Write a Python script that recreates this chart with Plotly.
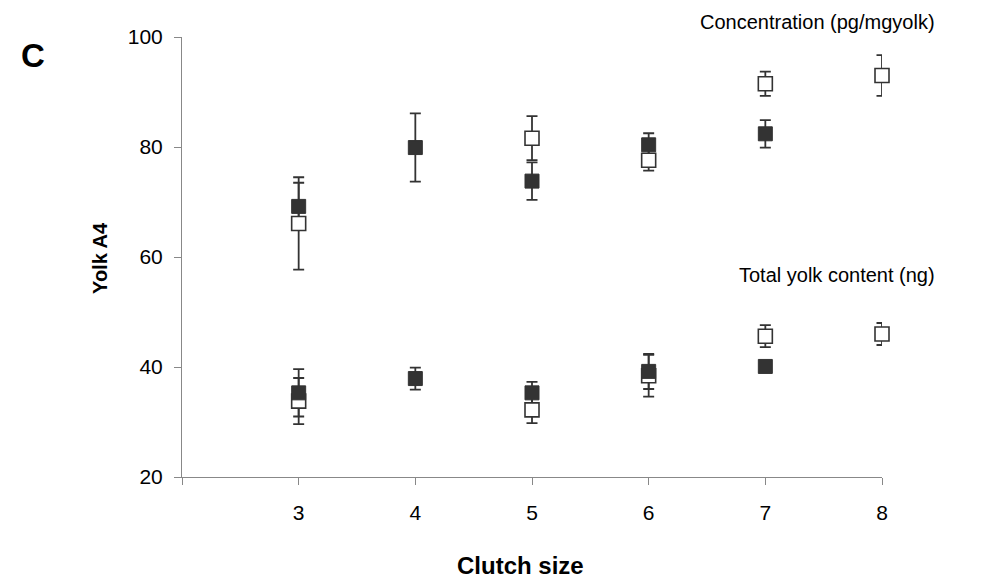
import plotly.graph_objects as go

# ---- data ----
clutch_filled = [3, 4, 5, 6, 7]
conc_filled = [69.2, 79.9, 73.8, 80.4, 82.4]
conc_filled_err = [4.3, 6.2, 3.4, 2.1, 2.5]
total_filled = [35.3, 37.9, 35.3, 39.2, 40.1]
total_filled_err = [4.3, 2.0, 2.0, 3.2, 1.0]

clutch_open = [3, 5, 6, 7, 8]
conc_open = [66.1, 81.6, 77.6, 91.5, 93.0]
conc_open_err = [8.4, 4.0, 1.9, 2.2, 3.7]
total_open = [33.8, 32.2, 38.4, 45.6, 46.0]
total_open_err = [4.2, 2.4, 3.8, 2.0, 2.0]

x_ticks = [2, 3, 4, 5, 6, 7, 8]
x_ticktext = ["", "3", "4", "5", "6", "7", "8"]
y_ticks = [20, 40, 60, 80, 100]

DARK = "#333333"
FONT = "Liberation Sans, Arial, sans-serif"

fig = go.Figure()

def err_trace(x, y, e):
    return go.Scatter(
        x=x, y=y, mode="markers",
        marker=dict(size=14, opacity=0),
        error_y=dict(type="data", array=e, visible=True, color=DARK,
                     thickness=1.8, width=5.5),
        cliponaxis=False, showlegend=False, hoverinfo="skip",
    )

def mk_trace(x, y, filled):
    return go.Scatter(
        x=x, y=y, mode="markers",
        marker=dict(symbol="square", size=14,
                    color=DARK if filled else "white",
                    line=dict(color=DARK, width=1 if filled else 1.6)),
        cliponaxis=False, showlegend=False,
    )

# error bars first (below all markers)
fig.add_trace(err_trace(clutch_open, conc_open, conc_open_err))
fig.add_trace(err_trace(clutch_filled, conc_filled, conc_filled_err))
fig.add_trace(err_trace(clutch_open, total_open, total_open_err))
fig.add_trace(err_trace(clutch_filled, total_filled, total_filled_err))
# markers: open below filled
fig.add_trace(mk_trace(clutch_open, conc_open, False))
fig.add_trace(mk_trace(clutch_open, total_open, False))
fig.add_trace(mk_trace(clutch_filled, conc_filled, True))
fig.add_trace(mk_trace(clutch_filled, total_filled, True))

axis_common = dict(
    showline=True, linecolor="#888888", linewidth=1,
    ticks="outside", ticklen=7, tickcolor="#888888", tickwidth=1,
    showgrid=False, zeroline=False,
    tickfont=dict(family=FONT, size=21, color="black"),
)

fig.update_layout(
    width=1003, height=585,
    margin=dict(l=182, r=121, t=37, b=108),
    paper_bgcolor="white", plot_bgcolor="white",
    xaxis=dict(range=[2, 8], tickvals=x_ticks, ticktext=x_ticktext,
               ticklabelstandoff=10, **axis_common),
    yaxis=dict(range=[20, 100], tickvals=y_ticks,
               ticklabelstandoff=7, **axis_common),
    annotations=[
        dict(text="<b>C</b>", x=-0.213, y=0.959, xref="paper", yref="paper",
             showarrow=False, xanchor="center", yanchor="middle",
             font=dict(family=FONT, size=33, color="black")),
        dict(text="<b>Yolk A4</b>", x=-0.117, y=0.498, xref="paper", yref="paper",
             showarrow=False, xanchor="center", yanchor="middle", textangle=-90,
             font=dict(family=FONT, size=20, color="black")),
        dict(text="<b>Clutch size</b>", x=0.483, y=-0.2, xref="paper", yref="paper",
             showarrow=False, xanchor="center", yanchor="middle",
             font=dict(family=FONT, size=24, color="black")),
        dict(text="Concentration (pg/mgyolk)", x=1.0786, y=1.034,
             xref="paper", yref="paper", showarrow=False,
             xanchor="right", yanchor="middle",
             font=dict(family=FONT, size=20, color="black")),
        dict(text="Total yolk content (ng)", x=1.0786, y=0.459,
             xref="paper", yref="paper", showarrow=False,
             xanchor="right", yanchor="middle",
             font=dict(family=FONT, size=20, color="black")),
    ],
)

fig.write_html("out.html")
